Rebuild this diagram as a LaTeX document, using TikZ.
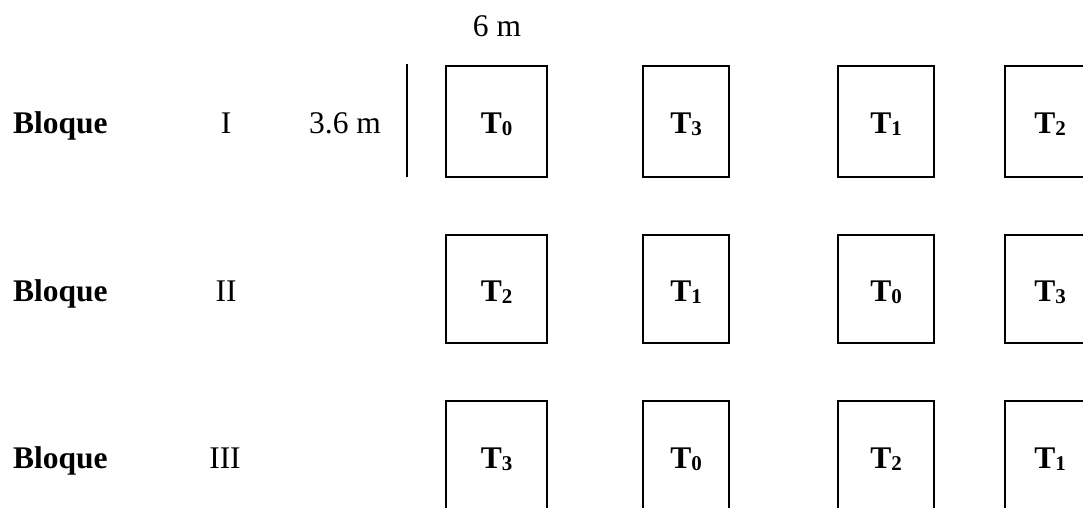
\documentclass[tikz,border=0pt]{standalone}
\usepackage{fontspec}
\setmainfont{Liberation Serif}
\newcommand\Tsub[1]{T\raisebox{-2pt}{\fontsize{21}{21}\selectfont #1}}
\begin{document}
\begin{tikzpicture}[x=1pt,y=-1pt,
  plotbox/.style={draw,line width=2.2pt,inner sep=0pt,text height=26pt,text depth=2pt,
    font=\fontsize{31.5}{36}\selectfont\bfseries},
  cA/.style={minimum width=100.8pt},
  cB/.style={minimum width=85.8pt},
  cC/.style={minimum width=96.3pt},
  cD/.style={minimum width=89.8pt},
  rA/.style={minimum height=110.8pt},
  rB/.style={minimum height=107.8pt},
  rC/.style={minimum height=109.8pt},
  lbl/.style={inner sep=0pt,anchor=base,font=\fontsize{31.5}{36}\selectfont},
  blk/.style={inner sep=0pt,anchor=base west,font=\fontsize{31.5}{36}\selectfont\bfseries},
  dimline/.style={line width=2.2pt}]
\useasboundingbox (0,0) rectangle (1083,508);
\clip (0,0) rectangle (1083,508);
% row 1
\node[plotbox,cA,rA] (r1c1) at (496.5,121.5) {\Tsub{0}};
\node[plotbox,cB,rA] (r1c2) at (686,121.5) {\Tsub{3}};
\node[plotbox,cC,rA] (r1c3) at (886.2,121.5) {\Tsub{1}};
\node[plotbox,cD,rA] (r1c4) at (1050,121.5) {\Tsub{2}};
% row 2
\node[plotbox,cA,rB] (r2c1) at (496.5,289) {\Tsub{2}};
\node[plotbox,cB,rB] (r2c2) at (686,289) {\Tsub{1}};
\node[plotbox,cC,rB] (r2c3) at (886.2,289) {\Tsub{0}};
\node[plotbox,cD,rB] (r2c4) at (1050,289) {\Tsub{3}};
% row 3
\node[plotbox,cA,rC] (r3c1) at (496.5,456) {\Tsub{3}};
\node[plotbox,cB,rC] (r3c2) at (686,456) {\Tsub{0}};
\node[plotbox,cC,rC] (r3c3) at (886.2,456) {\Tsub{2}};
\node[plotbox,cD,rC] (r3c4) at (1050,456) {\Tsub{1}};
% labels
\node[blk] (b1) at (13,133) {Bloque};
\node[blk] (b2) at (13,301) {Bloque};
\node[blk] (b3) at (13,468) {Bloque};
\node[lbl] (n1) at (226,133) {I};
\node[lbl] (n2) at (226,301) {II};
\node[lbl] (n3) at (225,468) {III};
\node[lbl] (w) at (345,133) {3.6 m};
\node[lbl] (l) at (497,36.7) {6 m};
% dimension line
\coordinate (dtop) at (407,64);
\coordinate (dbot) at (407,177);
\draw[dimline] (dtop) -- (dbot);
\end{tikzpicture}
\end{document}
